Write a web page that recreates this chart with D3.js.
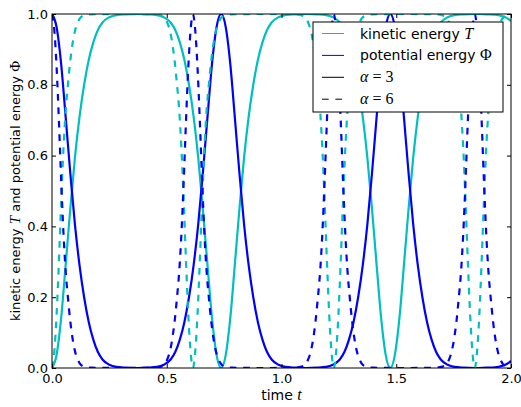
<!DOCTYPE html>
<html>
<head>
<meta charset="utf-8">
<script src="https://cdn.jsdelivr.net/npm/d3@7"></script>
<style>
  body { margin: 0; background: #fff; }
  .tick text { font-family: "DejaVu Sans", sans-serif; font-size: 13px; fill: #000; }
  .tick line { stroke: #000; }
  .lbl { font-family: "DejaVu Sans", sans-serif; font-size: 14px; fill: #000; }
  .ylbl { font-size: 13px; }
  .math { font-family: "Liberation Serif", "DejaVu Serif", serif; font-size: 16px; }
  .ylbl .math { font-size: 15px; }
</style>
</head>
<body>
<script>
var width = 521,
    height = 407;
var margin = {top: 14, right: 10, bottom: 39, left: 52};

// alpha = 3 (solid)
var timeA3 = [0, 0.02, 0.04, 0.06, 0.08, 0.10, 0.12, 0.14, 0.16, 0.18, 0.20, 0.22, 0.25, 0.28, 0.32, 0.369,
  0.417, 0.457, 0.487, 0.517, 0.537, 0.557, 0.577, 0.597, 0.617, 0.637, 0.657, 0.677, 0.697, 0.717, 0.737,
  0.757, 0.777, 0.797, 0.817, 0.837, 0.857, 0.877, 0.897, 0.917, 0.937, 0.957, 0.987, 1.017, 1.057, 1.106,
  1.154, 1.194, 1.224, 1.254, 1.274, 1.294, 1.314, 1.334, 1.354, 1.374, 1.394, 1.414, 1.434, 1.454, 1.474,
  1.494, 1.514, 1.534, 1.554, 1.574, 1.594, 1.614, 1.634, 1.654, 1.674, 1.694, 1.724, 1.754, 1.794, 1.843,
  1.891, 1.931, 1.961, 1.991, 2.0];
var potA3 = [1, 0.963, 0.858, 0.705, 0.548, 0.405, 0.290, 0.200, 0.130, 0.080, 0.045, 0.024, 0.009, 0.003, 0.001, 0,
  0.001, 0.003, 0.009, 0.024, 0.045, 0.080, 0.130, 0.200, 0.290, 0.405, 0.548, 0.705, 0.858, 0.963, 1,
  0.963, 0.858, 0.705, 0.548, 0.405, 0.290, 0.200, 0.130, 0.080, 0.045, 0.024, 0.009, 0.003, 0.001, 0,
  0.001, 0.003, 0.009, 0.024, 0.045, 0.080, 0.130, 0.200, 0.290, 0.405, 0.548, 0.705, 0.858, 0.963, 1,
  0.963, 0.858, 0.705, 0.548, 0.405, 0.290, 0.200, 0.130, 0.080, 0.045, 0.024, 0.009, 0.003, 0.001, 0,
  0.001, 0.002, 0.006, 0.015, 0.02];
var kinA3 = [0, 0.037, 0.142, 0.295, 0.452, 0.595, 0.710, 0.800, 0.870, 0.920, 0.955, 0.976, 0.991, 0.997, 0.999, 1,
  0.999, 0.997, 0.991, 0.976, 0.955, 0.920, 0.870, 0.800, 0.710, 0.595, 0.452, 0.295, 0.142, 0.037, 0,
  0.037, 0.142, 0.295, 0.452, 0.595, 0.710, 0.800, 0.870, 0.920, 0.955, 0.976, 0.991, 0.997, 0.999, 1,
  0.999, 0.997, 0.991, 0.976, 0.955, 0.920, 0.870, 0.800, 0.710, 0.595, 0.452, 0.295, 0.142, 0.037, 0,
  0.037, 0.142, 0.295, 0.452, 0.595, 0.710, 0.800, 0.870, 0.920, 0.955, 0.976, 0.991, 0.997, 0.999, 1,
  0.999, 0.998, 0.994, 0.985, 0.98];

// alpha = 6 (dashed)
var timeA6 = [0, 0.01, 0.02, 0.03, 0.04, 0.05, 0.06, 0.07, 0.08, 0.09, 0.10, 0.11, 0.12, 0.14, 0.17, 0.307,
  0.444, 0.474, 0.494, 0.504, 0.514, 0.524, 0.534, 0.544, 0.554, 0.564, 0.574, 0.584, 0.594, 0.604, 0.614,
  0.624, 0.634, 0.644, 0.654, 0.664, 0.674, 0.684, 0.694, 0.704, 0.714, 0.724, 0.734, 0.754, 0.784, 0.921,
  1.058, 1.088, 1.108, 1.118, 1.128, 1.138, 1.148, 1.158, 1.168, 1.178, 1.188, 1.198, 1.208, 1.218, 1.228,
  1.238, 1.248, 1.258, 1.268, 1.278, 1.288, 1.298, 1.308, 1.318, 1.328, 1.338, 1.348, 1.368, 1.398, 1.535,
  1.672, 1.702, 1.722, 1.732, 1.742, 1.752, 1.762, 1.772, 1.782, 1.792, 1.802, 1.812, 1.822, 1.832, 1.842,
  1.852, 1.862, 1.872, 1.882, 1.892, 1.902, 1.912, 1.922, 1.932, 1.942, 1.952, 1.962, 1.982, 2.0];
var potA6 = [1, 0.955, 0.85, 0.70, 0.53, 0.38, 0.27, 0.195, 0.13, 0.082, 0.048, 0.027, 0.014, 0.004, 0.001, 0,
  0.001, 0.004, 0.014, 0.027, 0.048, 0.082, 0.13, 0.195, 0.27, 0.38, 0.53, 0.70, 0.85, 0.955, 1,
  0.955, 0.85, 0.70, 0.53, 0.38, 0.27, 0.195, 0.13, 0.082, 0.048, 0.027, 0.014, 0.004, 0.001, 0,
  0.001, 0.004, 0.014, 0.027, 0.048, 0.082, 0.13, 0.195, 0.27, 0.38, 0.53, 0.70, 0.85, 0.955, 1,
  0.955, 0.85, 0.70, 0.53, 0.38, 0.27, 0.195, 0.13, 0.082, 0.048, 0.027, 0.014, 0.004, 0.001, 0,
  0.001, 0.004, 0.014, 0.027, 0.048, 0.082, 0.13, 0.195, 0.27, 0.38, 0.53, 0.70, 0.85, 0.955, 1,
  0.955, 0.85, 0.70, 0.53, 0.38, 0.27, 0.195, 0.13, 0.082, 0.048, 0.027, 0.014, 0.004, 0.002];
var kinA6 = [0, 0.045, 0.15, 0.30, 0.47, 0.62, 0.73, 0.805, 0.87, 0.918, 0.952, 0.973, 0.986, 0.996, 0.999, 1,
  0.999, 0.996, 0.986, 0.973, 0.952, 0.918, 0.87, 0.805, 0.73, 0.62, 0.47, 0.30, 0.15, 0.045, 0,
  0.045, 0.15, 0.30, 0.47, 0.62, 0.73, 0.805, 0.87, 0.918, 0.952, 0.973, 0.986, 0.996, 0.999, 1,
  0.999, 0.996, 0.986, 0.973, 0.952, 0.918, 0.87, 0.805, 0.73, 0.62, 0.47, 0.30, 0.15, 0.045, 0,
  0.045, 0.15, 0.30, 0.47, 0.62, 0.73, 0.805, 0.87, 0.918, 0.952, 0.973, 0.986, 0.996, 0.999, 1,
  0.999, 0.996, 0.986, 0.973, 0.952, 0.918, 0.87, 0.805, 0.73, 0.62, 0.47, 0.30, 0.15, 0.045, 0,
  0.045, 0.15, 0.30, 0.47, 0.62, 0.73, 0.805, 0.87, 0.918, 0.952, 0.973, 0.986, 0.996, 0.998];

var xTicks = [0, 0.5, 1.0, 1.5, 2.0];
var yTicks = [0, 0.2, 0.4, 0.6, 0.8, 1.0];

var w = width - margin.left - margin.right,
    h = height - margin.top - margin.bottom;

var x = d3.scaleLinear().domain([0, 2]).range([0, w]);
var y = d3.scaleLinear().domain([0, 1]).range([h, 0]);

var svg = d3.select("body").append("svg")
    .attr("width", width)
    .attr("height", height);

var g = svg.append("g")
    .attr("transform", "translate(" + margin.left + "," + margin.top + ")");

g.append("clipPath").attr("id", "clip")
  .append("rect").attr("width", w).attr("height", h);

function series(times, vals) {
  return times.map(function(t, i) { return [t, vals[i]]; });
}

var line = d3.line()
    .x(function(d) { return x(d[0]); })
    .y(function(d) { return y(d[1]); })
    .curve(d3.curveMonotoneX);

var curves = [
  {data: series(timeA3, kinA3), color: "#00bfbf", dash: null},
  {data: series(timeA3, potA3), color: "#0000ff", dash: null},
  {data: series(timeA6, kinA6), color: "#00bfbf", dash: "6.7,6.7"},
  {data: series(timeA6, potA6), color: "#0000ff", dash: "6.7,6.7"}
];

var plot = g.append("g").attr("clip-path", "url(#clip)");
plot.selectAll("path")
  .data(curves)
  .enter().append("path")
    .attr("d", function(d) { return line(d.data); })
    .attr("fill", "none")
    .attr("stroke", function(d) { return d.color; })
    .attr("stroke-width", 2.2)
    .attr("stroke-dasharray", function(d) { return d.dash; });

// axes, ticks pointing inwards on all four sides
var fmt = d3.format(".1f");
g.append("g").attr("transform", "translate(0," + h + ")")
  .call(d3.axisBottom(x).tickValues(xTicks).tickFormat(fmt).tickSizeInner(-4).tickSizeOuter(0).tickPadding(6));
g.append("g")
  .call(d3.axisTop(x).tickValues(xTicks).tickFormat("").tickSizeInner(-4).tickSizeOuter(0));
g.append("g")
  .call(d3.axisLeft(y).tickValues(yTicks).tickFormat(fmt).tickSizeInner(-4).tickSizeOuter(0).tickPadding(4));
g.append("g").attr("transform", "translate(" + w + ",0)")
  .call(d3.axisRight(y).tickValues(yTicks).tickFormat("").tickSizeInner(-4).tickSizeOuter(0));
g.selectAll(".domain").remove();

g.append("rect")
    .attr("width", w).attr("height", h)
    .attr("fill", "none").attr("stroke", "#000").attr("stroke-width", 1);

// axis labels
var xl = svg.append("text").attr("class", "lbl")
    .attr("x", margin.left + w / 2).attr("y", 400)
    .attr("text-anchor", "middle");
xl.append("tspan").text("time ");
xl.append("tspan").attr("class", "math").attr("font-style", "italic").text("t");

var yl = svg.append("text").attr("class", "lbl ylbl")
    .attr("transform", "translate(20," + (margin.top + h / 2) + ") rotate(-90)")
    .attr("text-anchor", "middle");
yl.append("tspan").text("kinetic energy ");
yl.append("tspan").attr("class", "math").attr("font-style", "italic").text("T");
yl.append("tspan").text(" and potential energy ");
yl.append("tspan").attr("class", "math").text("Φ");

// legend
var legend = svg.append("g").attr("transform", "translate(313,22)");
legend.append("rect")
    .attr("width", 190).attr("height", 90)
    .attr("fill", "#fff").attr("stroke", "#000").attr("stroke-width", 1);

var entries = [
  {color: "#00bfbf", width: 1, dash: null, text: "kinetic energy ", math: "T", italic: true},
  {color: "#0000ff", width: 1, dash: null, text: "potential energy ", math: "Φ", italic: false},
  {color: "#000", width: 1, dash: null, text: "", math: "α", italic: true, rest: " = 3"},
  {color: "#000", width: 1, dash: "6.7,6.7", text: "", math: "α", italic: true, rest: " = 6"}
];

var row = legend.selectAll(".entry")
  .data(entries)
  .enter().append("g")
    .attr("class", "entry")
    .attr("transform", function(d, i) { return "translate(0," + (11.5 + i * 21.9) + ")"; });

row.append("line")
    .attr("x1", 9).attr("x2", 31)
    .attr("stroke", function(d) { return d.color; })
    .attr("stroke-width", function(d) { return d.width; })
    .attr("stroke-dasharray", function(d) { return d.dash; });

var rt = row.append("text").attr("class", "lbl")
    .attr("x", 47).attr("dy", "0.36em");
rt.append("tspan").text(function(d) { return d.text; });
rt.append("tspan").attr("class", "math")
    .attr("font-style", function(d) { return d.italic ? "italic" : null; })
    .text(function(d) { return d.math; });
rt.append("tspan").attr("class", "math")
    .text(function(d) { return d.rest || ""; });
</script>
</body>
</html>
